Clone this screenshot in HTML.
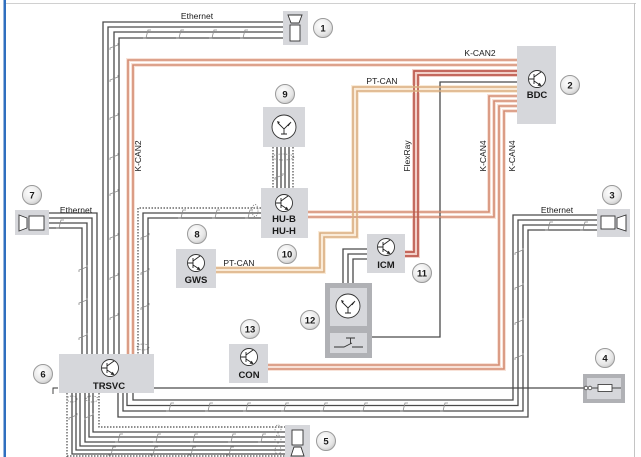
<!DOCTYPE html>
<html><head><meta charset="utf-8"><style>
html,body{margin:0;padding:0;background:#fff;}
svg{display:block;}
text{font-family:"Liberation Sans",Arial,sans-serif;fill:#1a1a1a;}
</style></head><body>
<svg width="641" height="457" viewBox="0 0 641 457" xmlns="http://www.w3.org/2000/svg">
<rect width="641" height="457" fill="#fff"/>
<!-- frame -->
<line x1="6" y1="3.5" x2="636" y2="3.5" stroke="#d0d0d0" stroke-width="1"/>
<line x1="634.5" y1="3" x2="634.5" y2="457" stroke="#c4c4c4" stroke-width="1"/>
<rect x="3.5" y="0" width="2.5" height="457" fill="#2f6fbf"/>

<!-- colored wire halos -->
<g fill="none" stroke-linejoin="miter">
 <g stroke="#f8e2d8" stroke-width="4">
  <path d="M517,60 H128 V354"/><path d="M517,65 H133 V354"/>
  <path d="M517,96 H489 V212 H308"/><path d="M517,101 H494 V217 H308"/>
  <path d="M517,106 H499 V365 H268"/><path d="M517,111 H504 V369 H268"/>
 </g>
 <g stroke="#f2d0c8" stroke-width="4">
  <path d="M517,71 H414 V252 H405"/><path d="M517,75 H418 V256 H405"/>
 </g>
 <g stroke="#faebd8" stroke-width="4">
  <path d="M517,87 H353 V233 H320 V268 H215"/><path d="M517,91 H357 V237 H324 V272 H215"/>
 </g>
</g>

<!-- gray wires -->
<g fill="none" stroke="#4a4a4a" stroke-width="1.3">
 <path d="M283,22 H103 V354"/><path d="M283,27 H108 V354"/>
 <path d="M283,32 H114 V354"/><path d="M283,38 H119 V354"/>
 <path d="M49,213 H97 V354"/><path d="M49,218 H92 V354"/>
 <path d="M49,223 H87 V354"/><path d="M49,228 H82 V354"/>
 <path d="M261,213 H143 V354"/><path d="M261,218 H148 V354"/>
 <path d="M277,147 V188"/><path d="M281,147 V188"/><path d="M285,147 V188"/><path d="M289,147 V188"/>
 <path d="M517,82 H440 V337 H372"/>
 <path d="M367,249 H343 V283"/><path d="M367,254 H348 V283"/><path d="M367,259 H353 V283"/>
 <path d="M597,215 H513 V400 H133 V393"/>
 <path d="M597,220 H518 V405.5 H127 V393"/>
 <path d="M597,225 H523 V411 H123 V393"/>
 <path d="M597,230 H528 V417 H118 V393"/>
 <path d="M154,388 H583"/>
 <path d="M93,393 V432 H285"/><path d="M89,393 V437 H285"/>
 <path d="M85,393 V442 H285"/><path d="M80,393 V446 H285"/>
 <path d="M76,393 V450 H285"/><path d="M72,393 V454 H285"/>
</g>
<!-- dotted wires -->
<g fill="none" stroke="#4a4a4a" stroke-width="1.2" stroke-dasharray="1.5,1.5">
 <path d="M261,208 H138 V354"/>
 <path d="M273,147 V188"/><path d="M293,147 V188"/>
 <path d="M99,393 V427 H285"/>
 <path d="M67,393 V457"/>
 <path d="M67,456 H285"/>
</g>
<!-- dotted ellipses -->
<g fill="none" stroke="#777" stroke-width="0.8" stroke-dasharray="1.2,1.2">
 <ellipse cx="255" cy="210.5" rx="3" ry="6"/>
 <ellipse cx="143" cy="347" rx="6" ry="3"/>
 <ellipse cx="283" cy="157" rx="11" ry="3"/>
 <ellipse cx="72" cy="399" rx="5" ry="3"/>
 <ellipse cx="92" cy="399" rx="6" ry="3"/>
 <ellipse cx="278" cy="429" rx="3" ry="4"/>
 <ellipse cx="278" cy="439" rx="3" ry="4"/>
 <ellipse cx="278" cy="450" rx="3" ry="4"/>
</g>

<!-- colored wires main -->
<g fill="none">
 <g stroke="#d48c72" stroke-width="1.6">
  <path d="M517,60 H128 V354"/><path d="M517,65 H133 V354"/>
  <path d="M517,96 H489 V212 H308"/><path d="M517,101 H494 V217 H308"/>
  <path d="M517,106 H499 V365 H268"/><path d="M517,111 H504 V369 H268"/>
 </g>
 <g stroke="#bd5a4e" stroke-width="1.7">
  <path d="M517,71 H414 V252 H405"/><path d="M517,75 H418 V256 H405"/>
 </g>
 <g stroke="#d9ae80" stroke-width="1.6">
  <path d="M517,87 H353 V233 H320 V268 H215"/><path d="M517,91 H357 V237 H324 V272 H215"/>
 </g>
</g>

<!-- twist marks -->
<g fill="none" stroke="#8a8a8a" stroke-width="0.8">
 <path d="M143,38 h3 l2,-8 h3"/><path d="M176,38 h3 l2,-8 h3"/><path d="M209,38 h3 l2,-8 h3"/><path d="M240,38 h3 l2,-8 h3"/>
 <path d="M110,50 v-2 l8,-3 v-2"/><path d="M110,82 v-2 l8,-3 v-2"/><path d="M110,120 v-2 l8,-3 v-2"/><path d="M110,160 v-2 l8,-3 v-2"/><path d="M110,196 v-2 l8,-3 v-2"/><path d="M110,240 v-2 l8,-3 v-2"/><path d="M110,280 v-2 l8,-3 v-2"/><path d="M110,320 v-2 l8,-3 v-2"/>
 <path d="M79,272 v-2 l8,-3 v-2"/><path d="M79,305 v-2 l8,-3 v-2"/><path d="M79,340 v-2 l8,-3 v-2"/>
 <path d="M56,228 h3 l2,-8 h3"/>
 <path d="M141,240 v-2 l8,-3 v-2"/><path d="M141,275 v-2 l8,-3 v-2"/><path d="M141,310 v-2 l8,-3 v-2"/>
 <path d="M178,218 h3 l2,-8 h3"/><path d="M212,218 h3 l2,-8 h3"/><path d="M245,218 h3 l2,-8 h3"/>
 <path d="M275,180 v-2 l8,-3 v-2"/>
 <path d="M166,411 h3 l2,-8 h3"/><path d="M205,411 h3 l2,-8 h3"/><path d="M243,411 h3 l2,-8 h3"/><path d="M281,411 h3 l2,-8 h3"/><path d="M320,411 h3 l2,-8 h3"/><path d="M360,411 h3 l2,-8 h3"/><path d="M400,411 h3 l2,-8 h3"/><path d="M440,411 h3 l2,-8 h3"/>
 <path d="M515,255 v-2 l8,-3 v-2"/><path d="M515,290 v-2 l8,-3 v-2"/><path d="M515,325 v-2 l8,-3 v-2"/><path d="M515,360 v-2 l8,-3 v-2"/>
 <path d="M545,230 h3 l2,-8 h3"/><path d="M580,230 h3 l2,-8 h3"/>
 <path d="M115,442 h3 l2,-8 h3"/><path d="M153,442 h3 l2,-8 h3"/><path d="M190,442 h3 l2,-8 h3"/><path d="M228,442 h3 l2,-8 h3"/><path d="M258,442 h3 l2,-8 h3"/>
 <path d="M108,455 h3 l2,-8 h3"/><path d="M150,455 h3 l2,-8 h3"/><path d="M188,455 h3 l2,-8 h3"/><path d="M226,455 h3 l2,-8 h3"/>
 <path d="M69,420 v-2 l8,-3 v-2"/><path d="M85,420 v-2 l8,-3 v-2"/>
</g>

<!-- component boxes -->
<g fill="#d6d7db">
 <rect x="283" y="11" width="25" height="34"/>
 <rect x="517" y="46" width="39" height="78"/>
 <rect x="597" y="209" width="33" height="28"/>
 <rect x="285" y="425" width="25" height="32"/>
 <rect x="59" y="354" width="95" height="39"/>
 <rect x="15" y="210" width="34" height="25"/>
 <rect x="176" y="249" width="40" height="39"/>
 <rect x="261" y="188" width="47" height="50"/>
 <rect x="263" y="107" width="42" height="40"/>
 <rect x="367" y="234" width="38" height="39"/>
 <rect x="229" y="344" width="39" height="39"/>
</g>
<!-- box 12 -->
<rect x="325" y="283" width="47" height="75" fill="#b0b1b5"/>
<rect x="330" y="288" width="37" height="38" fill="#d6d7db"/>
<rect x="330" y="333" width="37" height="20" fill="#d6d7db"/>
<g fill="none" stroke="#333" stroke-width="0.9">
 <path d="M334,347 H344 L352,343 M352,347 H363"/>
 <path d="M346,338 H355 M350.5,338 V344"/>
</g>
<!-- box 4 -->
<rect x="583" y="374" width="42" height="29" fill="#b0b1b5"/>
<rect x="587" y="378" width="34" height="21" fill="#d6d7db"/>
<line x1="583" y1="388" x2="621" y2="388" stroke="#444" stroke-width="1"/>
<rect x="598" y="384.5" width="14" height="7" fill="#fff" stroke="#444" stroke-width="0.9"/>
<circle cx="586" cy="388" r="1.8" fill="#fff" stroke="#444" stroke-width="0.8"/>
<circle cx="590" cy="388" r="1.8" fill="#fff" stroke="#444" stroke-width="0.8"/>
<path d="M53,394 V388 H58" fill="none" stroke="#333" stroke-width="0.9"/>

<!-- cameras -->
<g fill="#fff" stroke="#333" stroke-width="0.9">
 <path d="M288,15 H302 L299,23 H291 Z"/><rect x="290" y="25" width="10" height="16"/>
 <rect x="601" y="216" width="14" height="13"/><path d="M617,218 L626,215 V231 L617,228 Z"/>
 <path d="M19,215 L27,218 V228 L19,231 Z"/><rect x="29" y="216" width="15" height="14"/>
 <rect x="292" y="430" width="11" height="15"/><path d="M294,447 H301 L304,456 H291 Z"/>
</g>

<!-- transistor icons -->
<defs>
 <g id="tr">
  <circle cx="0" cy="0" r="8.5" fill="#fff" stroke="#333" stroke-width="0.9"/>
  <path d="M-3,-5 V5 M-8,0 H-3 M-3,-2 L4,-7 M-3,2 L4,6.5" fill="none" stroke="#222" stroke-width="0.9"/>
  <path d="M4.5,7 L0.5,6.6 L2.7,3.8 Z" fill="#222"/>
 </g>
 <g id="ant">
  <circle cx="0" cy="0" r="12" fill="#fff" stroke="#333" stroke-width="0.9"/>
  <path d="M-6,-4 L0,2 L6,-4 M0,2 V7 M-3,7 H3 M4,-1 L7,-5" fill="none" stroke="#222" stroke-width="0.9"/>
  <path d="M-7,-6 L-4,-5 L-6,-3 Z" fill="#222"/>
 </g>
</defs>
<use href="#tr" x="537" y="79"/>
<use href="#tr" x="110" y="368"/>
<use href="#tr" x="196" y="263"/>
<use href="#tr" x="284" y="203"/>
<use href="#tr" x="386" y="247"/>
<use href="#tr" x="249" y="357"/>
<use href="#ant" x="284" y="127"/>
<use href="#ant" x="348" y="306"/>

<!-- box labels -->
<g font-size="9.5" font-weight="bold" text-anchor="middle">
 <text x="537" y="98">BDC</text>
 <text x="109" y="389">TRSVC</text>
 <text x="196" y="283">GWS</text>
 <text x="284" y="222">HU-B</text>
 <text x="284" y="234">HU-H</text>
 <text x="386" y="268">ICM</text>
 <text x="249" y="378">CON</text>
</g>

<!-- bus labels -->
<g font-size="8.5" text-anchor="middle">
 <text x="197" y="19">Ethernet</text>
 <text x="480" y="56">K-CAN2</text>
 <text x="382" y="84">PT-CAN</text>
 <text x="557" y="213">Ethernet</text>
 <text x="76" y="213">Ethernet</text>
 <text x="239" y="266">PT-CAN</text>
 <text transform="translate(141,156) rotate(-90)">K-CAN2</text>
 <text transform="translate(410,156) rotate(-90)">FlexRay</text>
 <text transform="translate(486,156) rotate(-90)">K-CAN4</text>
 <text transform="translate(515,156) rotate(-90)">K-CAN4</text>
</g>

<!-- number circles -->
<defs>
 <radialGradient id="nb" cx="0.4" cy="0.35" r="0.7">
  <stop offset="0" stop-color="#ffffff"/>
  <stop offset="0.7" stop-color="#e6e6e6"/>
  <stop offset="1" stop-color="#c8c8c8"/>
 </radialGradient>
</defs>
<g stroke="#9a9a9a" stroke-width="1" fill="url(#nb)">
 <circle cx="323" cy="28" r="9.5"/>
 <circle cx="570" cy="85" r="9.5"/>
 <circle cx="612" cy="195" r="9.5"/>
 <circle cx="605" cy="358" r="9.5"/>
 <circle cx="326" cy="441" r="9.5"/>
 <circle cx="43" cy="374" r="9.5"/>
 <circle cx="32" cy="195" r="9.5"/>
 <circle cx="197" cy="234" r="9.5"/>
 <circle cx="285" cy="94" r="9.5"/>
 <circle cx="287" cy="254" r="9.5"/>
 <circle cx="422" cy="273" r="9.5"/>
 <circle cx="310" cy="320" r="9.5"/>
 <circle cx="250" cy="329" r="9.5"/>
</g>
<g font-size="9.5" font-weight="bold" text-anchor="middle">
 <text x="323" y="31.5">1</text>
 <text x="570" y="88.5">2</text>
 <text x="612" y="198.5">3</text>
 <text x="605" y="361.5">4</text>
 <text x="326" y="444.5">5</text>
 <text x="43" y="377.5">6</text>
 <text x="32" y="198.5">7</text>
 <text x="197" y="237.5">8</text>
 <text x="285" y="97.5">9</text>
 <text x="287" y="257.5">10</text>
 <text x="422" y="276.5">11</text>
 <text x="310" y="323.5">12</text>
 <text x="250" y="332.5">13</text>
</g>
</svg>
</body></html>
